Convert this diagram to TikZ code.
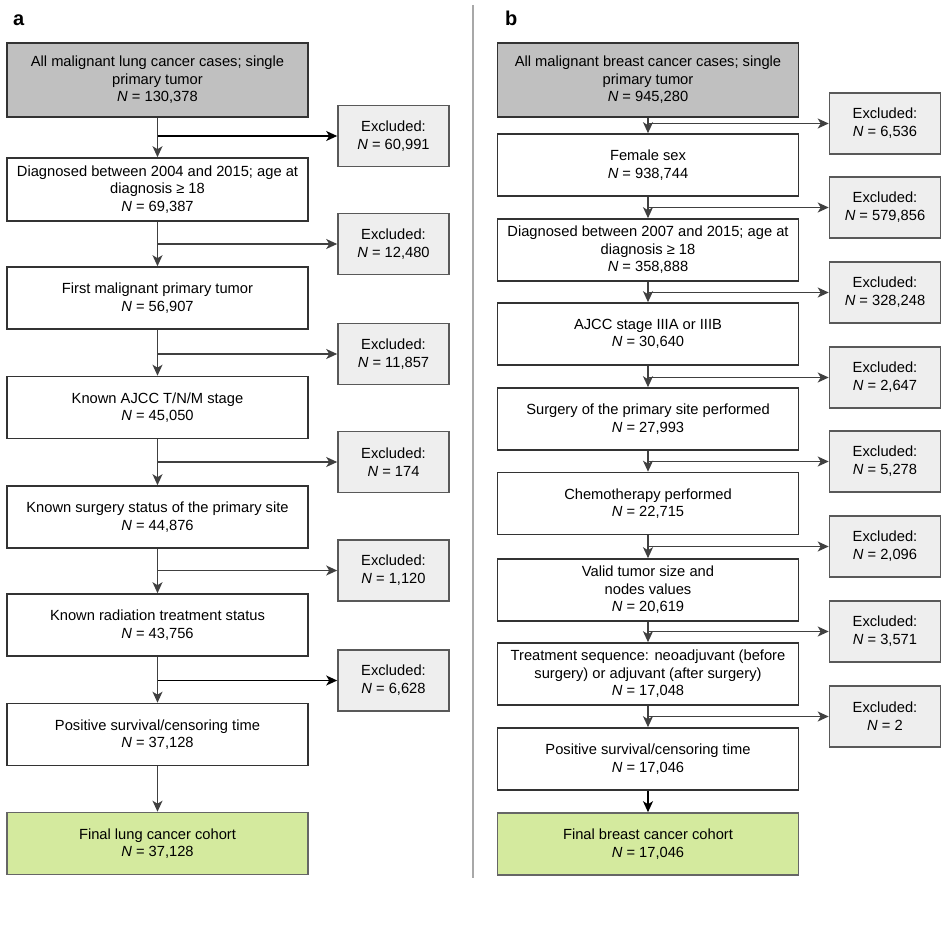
\documentclass[tikz,border=0pt]{standalone}
\usepackage{fontspec}
\setmainfont{Liberation Sans}
\usetikzlibrary{arrows.meta}
\definecolor{topgray}{HTML}{C0C0C0}
\definecolor{exgray}{HTML}{EEEEEE}
\definecolor{finalgreen}{HTML}{D4EA9E}
\definecolor{lineg}{HTML}{333333}
\definecolor{arrg}{HTML}{404040}
\definecolor{divg}{HTML}{A8A8A8}
\tikzset{
  box/.style={draw=lineg, line width=1.6pt, fill=white, minimum width=301pt, minimum height=62pt,
    align=center, inner sep=0pt, font=\fontsize{14.7pt}{17.5pt}\selectfont},
  topbox/.style={box, fill=topgray, minimum height=74pt},
  finalbox/.style={box, fill=finalgreen, draw=black!60},
  exbox/.style={draw=black!65, line width=1.6pt, fill=exgray, minimum width=111pt, minimum height=61pt,
    align=center, inner sep=0pt, font=\fontsize{14.7pt}{18pt}\selectfont},
  conn/.style={draw=arrg, line width=1.4pt, -{Stealth[length=11pt,width=10pt,inset=3pt]}},
  connk/.style={conn, draw=black},
  panel/.style={font=\fontsize{20pt}{24pt}\selectfont\bfseries, inner sep=0pt, anchor=base west}
}
\newcommand{\Nv}[1]{\textit{N} = #1}
\begin{document}
\begin{tikzpicture}[x=1pt, y=-1pt]
\useasboundingbox (0,0) rectangle (947,931);
% divider
\draw[divg, line width=1.5pt] (473,5) -- (473,878);
\node[panel] (la) at (13,26) {a};
\node[panel] (lb) at (505,26) {b};

% ---------- panel a ----------
\node[topbox] (a1) at (157.5,80) {All malignant lung cancer cases; single\\primary tumor\\\Nv{130,378}};
\node[box, minimum height=63pt] (a2) at (157.5,189.5) {Diagnosed between 2004 and 2015; age at\\diagnosis ≥ 18\\\Nv{69,387}};
\node[box] (a3) at (157.5,298) {First malignant primary tumor\\\Nv{56,907}};
\node[box] (a4) at (157.5,407.5) {Known AJCC T/N/M stage\\\Nv{45,050}};
\node[box] (a5) at (157.5,517) {Known surgery status of the primary site\\\Nv{44,876}};
\node[box] (a6) at (157.5,625) {Known radiation treatment status\\\Nv{43,756}};
\node[box] (a7) at (157.5,734.5) {Positive survival/censoring time\\\Nv{37,128}};
\node[finalbox] (a8) at (157.5,843.5) {Final lung cancer cohort\\\Nv{37,128}};

\node[exbox] (ea1) at (393.5,136) {Excluded:\\\Nv{60,991}};
\node[exbox] (ea2) at (393.5,244) {Excluded:\\\Nv{12,480}};
\node[exbox] (ea3) at (393.5,354) {Excluded:\\\Nv{11,857}};
\node[exbox] (ea4) at (393.5,462) {Excluded:\\\Nv{174}};
\node[exbox] (ea5) at (393.5,570.5) {Excluded:\\\Nv{1,120}};
\node[exbox] (ea6) at (393.5,680.5) {Excluded:\\\Nv{6,628}};

\draw[conn] (a1.south) -- (a2.north);
\draw[conn] (a2.south) -- (a3.north);
\draw[conn] (a3.south) -- (a4.north);
\draw[conn] (a4.south) -- (a5.north);
\draw[conn] (a5.south) -- (a6.north);
\draw[conn] (a6.south) -- (a7.north);
\draw[conn] (a7.south) -- (a8.north);
\draw[connk] (a1.south |- ea1.west) -- (ea1.west);
\draw[conn] (a2.south |- ea2.west) -- (ea2.west);
\draw[conn] (a3.south |- ea3.west) -- (ea3.west);
\draw[conn] (a4.south |- ea4.west) -- (ea4.west);
\draw[conn] (a5.south |- ea5.west) -- (ea5.west);
\draw[connk] (a6.south |- ea6.west) -- (ea6.west);

% ---------- panel b ----------
\node[topbox] (b1) at (648,80) {All malignant breast cancer cases; single\\primary tumor\\\Nv{945,280}};
\node[box] (b2) at (648,165) {Female sex\\\Nv{938,744}};
\node[box] (b3) at (648,250) {Diagnosed between 2007 and 2015; age at\\diagnosis ≥ 18\\\Nv{358,888}};
\node[box] (b4) at (648,334) {AJCC stage IIIA or IIIB\\\Nv{30,640}};
\node[box] (b5) at (648,419) {Surgery of the primary site performed\\\Nv{27,993}};
\node[box] (b6) at (648,503.5) {Chemotherapy performed\\\Nv{22,715}};
\node[box] (b7) at (648,590) {Valid tumor size and\\nodes values\\\Nv{20,619}};
\node[box] (b8) at (648,674) {Treatment sequence: neoadjuvant (before\\surgery) or adjuvant (after surgery)\\\Nv{17,048}};
\node[box] (b9) at (648,759) {Positive survival/censoring time\\\Nv{17,046}};
\node[finalbox] (b10) at (648,844) {Final breast cancer cohort\\\Nv{17,046}};

\node[exbox] (eb1) at (885,123.5) {Excluded:\\\Nv{6,536}};
\node[exbox] (eb2) at (885,207.5) {Excluded:\\\Nv{579,856}};
\node[exbox] (eb3) at (885,292.5) {Excluded:\\\Nv{328,248}};
\node[exbox] (eb4) at (885,377.5) {Excluded:\\\Nv{2,647}};
\node[exbox] (eb5) at (885,461.5) {Excluded:\\\Nv{5,278}};
\node[exbox] (eb6) at (885,546.5) {Excluded:\\\Nv{2,096}};
\node[exbox] (eb7) at (885,631.5) {Excluded:\\\Nv{3,571}};
\node[exbox] (eb8) at (885,716.5) {Excluded:\\\Nv{2}};

\draw[conn] (b1.south) -- (b2.north);
\draw[conn] (b2.south) -- (b3.north);
\draw[conn] (b3.south) -- (b4.north);
\draw[conn] (b4.south) -- (b5.north);
\draw[conn] (b5.south) -- (b6.north);
\draw[conn] (b6.south) -- (b7.north);
\draw[conn] (b7.south) -- (b8.north);
\draw[conn] (b8.south) -- (b9.north);
\draw[connk] (b9.south) -- (b10.north);
\draw[conn] (b1.south |- eb1.west) -- (eb1.west);
\draw[conn] (b2.south |- eb2.west) -- (eb2.west);
\draw[conn] (b3.south |- eb3.west) -- (eb3.west);
\draw[conn] (b4.south |- eb4.west) -- (eb4.west);
\draw[conn] (b5.south |- eb5.west) -- (eb5.west);
\draw[conn] (b6.south |- eb6.west) -- (eb6.west);
\draw[conn] (b7.south |- eb7.west) -- (eb7.west);
\draw[conn] (b8.south |- eb8.west) -- (eb8.west);
\end{tikzpicture}
\end{document}
